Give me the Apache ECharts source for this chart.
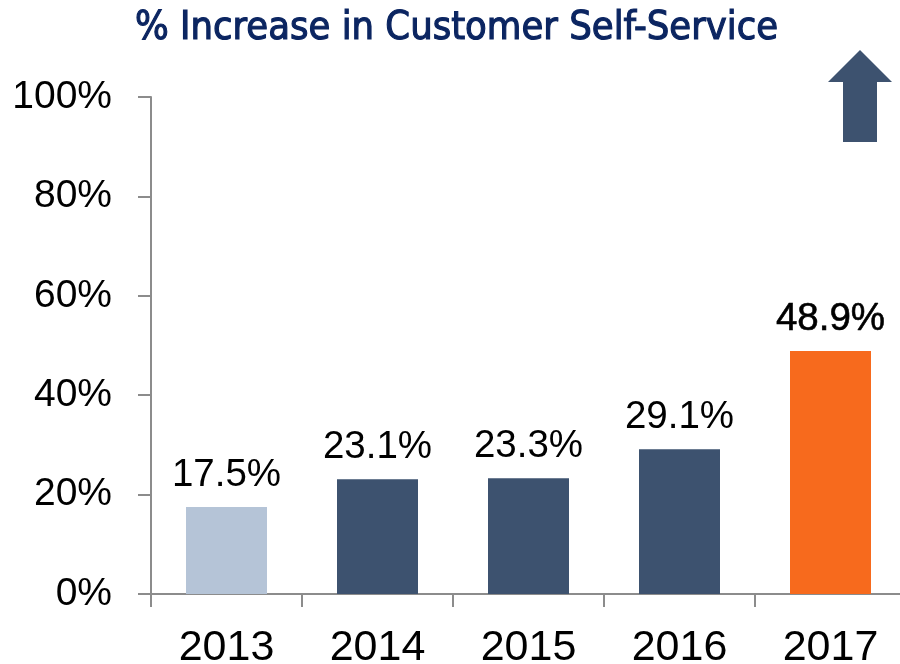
<!DOCTYPE html>
<html>
<head>
<meta charset="utf-8">
<script src="https://cdn.jsdelivr.net/npm/echarts@6/dist/echarts.min.js"></script>
<style>
  html, body { margin: 0; padding: 0; background: #fff; }
  #chart { width: 900px; height: 664px; }
</style>
</head>
<body>
<div id="chart"></div>
<script>
// Share of customer interactions handled through self-service, by year
const years = ['2013', '2014', '2015', '2016', '2017'];
const values = [17.5, 23.1, 23.3, 29.1, 48.9];
const barColors = ['#b5c4d7', '#3d526f', '#3d526f', '#3d526f', '#f76a1d'];
const yTicks = [0, 20, 40, 60, 80, 100];

const chart = echarts.init(document.getElementById('chart'));

const axisGray = '#8c8c8c';
const numFont = '"Liberation Sans", Arial, sans-serif';
const titleColor = '#0b2561';

chart.setOption({
  animation: false,
  title: {
    text: '% Increase in Customer Self-Service',
    left: 130,
    top: 4,
    textStyle: {
      fontFamily: '"DejaVu Sans Condensed", "Liberation Sans Narrow", sans-serif',
      fontSize: 39.5,
      fontWeight: 'normal',
      color: titleColor,
      textBorderColor: titleColor,
      textBorderWidth: 1.1
    }
  },
  grid: {
    left: 151, right: -6, top: 97, bottom: 70,
    containLabel: false,
    outerBoundsMode: 'none'
  },
  xAxis: {
    type: 'category',
    data: years,
    boundaryGap: true,
    axisLine: { lineStyle: { color: axisGray, width: 2 } },
    axisTick: { show: true, length: 13, lineStyle: { color: axisGray, width: 2 } },
    axisLabel: { fontFamily: numFont, fontSize: 43, color: '#000', margin: 33 }
  },
  yAxis: {
    type: 'value',
    min: yTicks[0],
    max: yTicks[yTicks.length - 1],
    interval: 20,
    splitLine: { show: false },
    axisLine: { show: true, lineStyle: { color: axisGray, width: 2 } },
    axisTick: { show: true, length: 13, lineStyle: { color: axisGray, width: 2 } },
    axisLabel: {
      fontFamily: numFont, fontSize: 39, color: '#000', margin: 39,
      formatter: v => v + '%'
    }
  },
  series: [{
    type: 'bar',
    barWidth: 81,
    data: values.map((v, i) => ({
      value: v,
      itemStyle: { color: barColors[i] },
      label: i === values.length - 1
        ? { textBorderColor: '#000', textBorderWidth: 0.6 }
        : {}
    })),
    label: {
      show: true,
      position: 'top',
      distance: 12,
      fontFamily: numFont,
      fontSize: 38.5,
      color: '#000',
      formatter: p => p.value.toFixed(1) + '%'
    }
  }],
  graphic: [{
    // upward trend arrow
    type: 'polygon',
    shape: {
      points: [[860, 50], [892, 82], [877, 82], [877, 142], [843, 142], [843, 82], [828, 82]]
    },
    style: { fill: '#3d526f' }
  }]
});
</script>
</body>
</html>
